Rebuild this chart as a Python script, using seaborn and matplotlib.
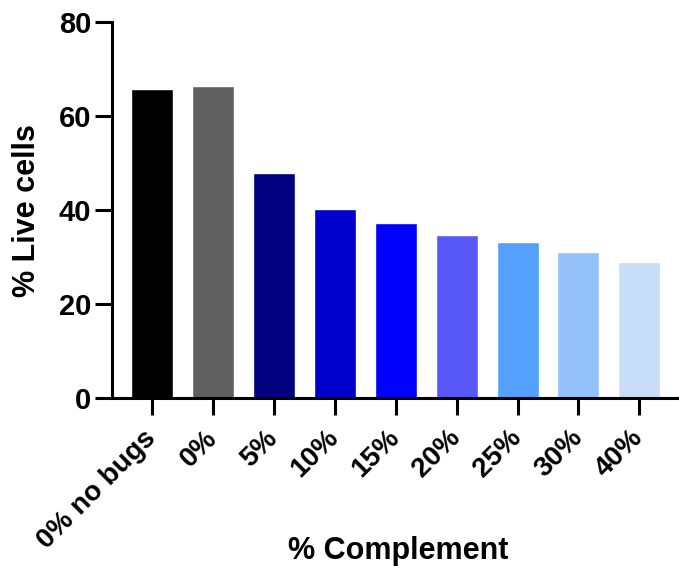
import matplotlib
matplotlib.use("Agg")
import matplotlib.pyplot as plt
import seaborn as sns
import pandas as pd

categories = ["0% no bugs", "0%", "5%", "10%", "15%", "20%", "25%", "30%", "40%"]
values = [65.8, 66.5, 48.0, 40.3, 37.2, 34.6, 33.3, 31.0, 28.9]
colors = ["#000000", "#606060", "#000080", "#0000CC", "#0000FF",
          "#5858F8", "#54A0FE", "#95C1FA", "#C8DDF7"]
yticks = [0, 20, 40, 60, 80]

sns.set_style("white")
plt.rcParams["font.family"] = ["Liberation Sans", "DejaVu Sans"]
plt.rcParams["font.weight"] = "bold"
plt.rcParams["text.color"] = "black"
plt.rcParams["axes.labelcolor"] = "black"
plt.rcParams["xtick.color"] = "black"
plt.rcParams["ytick.color"] = "black"

df = pd.DataFrame({"cat": categories, "val": values})

fig = plt.figure(figsize=(6.79, 5.71), dpi=100)
ax = fig.add_axes([0.165, 0.303, 0.834, 0.658])
sns.barplot(data=df, x="cat", y="val", hue="cat", palette=colors,
            legend=False, width=0.69, ax=ax, saturation=1)

ax.set_ylim(0, 80)
ax.set_xlim(-0.66, 8.64)
ax.set_yticks(yticks)
ax.set_yticklabels([str(t) for t in yticks], fontsize=21, fontweight="bold")
ax.set_xticks(range(len(categories)))
ax.set_xticklabels(categories, fontsize=20, fontweight="bold", rotation=45,
                   ha="right", va="center", rotation_mode="anchor")
ax.tick_params(axis="both", length=12, width=2.2, color="black", pad=3,
               bottom=True, left=True, labelcolor="black")
ax.tick_params(axis="x", pad=14)
for s in ["top", "right"]:
    ax.spines[s].set_visible(False)
for s in ["left", "bottom"]:
    ax.spines[s].set_linewidth(2.2)
    ax.spines[s].set_color("black")
ax.set_ylabel("% Live cells", fontsize=22, fontweight="bold", labelpad=12, color="black")
ax.set_xlabel("% Complement", fontsize=22, fontweight="bold", color="black")
ax.xaxis.set_label_coords(0.505, -0.368)

fig.savefig("out.png", dpi=100)
